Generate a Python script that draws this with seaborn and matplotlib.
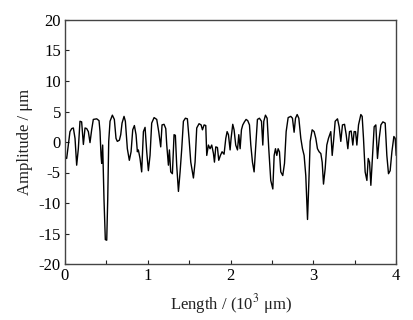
#!/usr/bin/env python3
# -*- coding: utf-8 -*-
"""Surface profile: amplitude vs length."""

import matplotlib
matplotlib.use('Agg')
import matplotlib.pyplot as plt
import seaborn as sns
import pandas as pd
from matplotlib.ticker import MultipleLocator

# Profile (length in 10^3 um, amplitude in um)
length = [0.000, 0.020, 0.040, 0.060, 0.081, 0.101, 0.121, 0.141, 0.161, 0.181,
          0.201, 0.222, 0.242, 0.262, 0.282, 0.302, 0.322, 0.342, 0.383, 0.411,
          0.423, 0.435, 0.443, 0.455, 0.471, 0.487, 0.504, 0.516, 0.528, 0.544,
          0.572, 0.596, 0.616, 0.632, 0.657, 0.673, 0.689, 0.713, 0.729, 0.753,
          0.777, 0.798, 0.818, 0.838, 0.858, 0.874, 0.886, 0.906, 0.926, 0.947,
          0.967, 0.987, 1.007, 1.027, 1.047, 1.076, 1.108, 1.132, 1.156, 1.172,
          1.196, 1.217, 1.229, 1.249, 1.261, 1.277, 1.297, 1.317, 1.333, 1.349,
          1.370, 1.390, 1.410, 1.430, 1.454, 1.478, 1.498, 1.519, 1.551, 1.571,
          1.591, 1.619, 1.644, 1.660, 1.680, 1.700, 1.712, 1.732, 1.752, 1.772,
          1.793, 1.805, 1.821, 1.841, 1.857, 1.877, 1.897, 1.921, 1.942, 1.958,
          1.974, 1.994, 2.006, 2.026, 2.042, 2.062, 2.083, 2.099, 2.115, 2.131,
          2.147, 2.167, 2.187, 2.207, 2.228, 2.244, 2.264, 2.284, 2.304, 2.324,
          2.348, 2.373, 2.389, 2.401, 2.421, 2.441, 2.461, 2.485, 2.510, 2.526,
          2.542, 2.558, 2.574, 2.590, 2.606, 2.630, 2.651, 2.671, 2.695, 2.727,
          2.747, 2.767, 2.784, 2.804, 2.824, 2.848, 2.868, 2.888, 2.908, 2.929,
          2.945, 2.961, 2.985, 3.009, 3.029, 3.049, 3.069, 3.090, 3.106, 3.122,
          3.142, 3.162, 3.182, 3.210, 3.227, 3.243, 3.263, 3.291, 3.311, 3.331,
          3.351, 3.376, 3.396, 3.416, 3.436, 3.456, 3.476, 3.492, 3.509, 3.525,
          3.545, 3.573, 3.589, 3.605, 3.625, 3.646, 3.662, 3.678, 3.694, 3.714,
          3.734, 3.754, 3.774, 3.795, 3.815, 3.839, 3.867, 3.887, 3.907, 3.927,
          3.948, 3.972, 3.988, 4.000]
amplitude = [-2.4, -2.7, -0.5, 1.7, 2.2, 2.3, 0.6, -3.8, -1.1, 3.4,
             3.3, -0.4, 2.3, 2.2, 1.7, -0.1, 2.0, 3.7, 3.8, 3.5,
             1.7, -2.2, -3.5, -0.5, -9.4, -16.0, -16.1, -9.4, 0.1, 3.4,
             4.4, 3.7, 0.6, 0.1, 0.3, 1.2, 3.1, 4.2, 3.4, -1.1,
             -3.0, -1.6, 2.0, 2.7, 1.2, -1.6, -1.3, -2.7, -4.9, 1.7,
             2.4, -1.6, -4.7, -2.2, 3.1, 4.0, 3.7, 1.7, -0.8, 2.8,
             2.9, 2.2, -0.5, -3.8, -1.3, -4.9, -5.2, 1.2, 1.1, -3.8,
             -8.1, -4.9, -1.1, 3.4, 3.9, 3.8, 0.6, -3.3, -5.9, -3.3,
             2.3, 3.0, 2.8, 2.0, 2.8, 2.7, -2.2, -0.5, -1.1, -0.5,
             -1.9, -3.3, -0.8, -0.9, -3.0, -2.2, -1.6, -2.0, 0.6, 1.7,
             1.2, -1.3, 0.6, 2.9, 2.0, -0.5, -1.3, 1.2, -1.1, 2.0,
             2.8, 3.3, 3.7, 3.5, 2.8, -0.5, -3.3, -4.9, -0.5, 3.7,
             3.9, 3.4, -0.5, 3.4, 4.4, 3.9, -1.1, -6.3, -7.7, -2.2,
             -1.1, -2.2, -1.1, -1.6, -4.9, -5.5, -3.5, 1.7, 4.0, 4.2,
             3.9, 1.6, 3.9, 4.5, 3.9, 0.6, -1.1, -2.2, -5.5, -12.7,
             -6.6, 0.1, 2.0, 1.7, 0.6, -1.1, -1.6, -1.9, -3.3, -6.9,
             -4.4, -0.5, 0.6, 1.7, -2.2, 0.1, 3.4, 3.8, 2.5, 0.1,
             2.8, 2.9, 1.2, -1.1, 1.7, 1.8, -0.5, 1.7, 1.7, -0.5,
             2.8, 4.5, 4.2, 0.6, -4.9, -6.3, -2.7, -3.3, -7.1, -2.2,
             2.5, 2.8, -2.7, 0.6, 2.8, 3.3, 3.1, -2.2, -5.2, -4.7,
             -1.6, 0.9, 0.6, -2.2]

df = pd.DataFrame({'Length': length, 'Amplitude': amplitude})

sns.set_style('white')
plt.rcParams['font.family'] = ['Liberation Serif', 'DejaVu Serif']
plt.rcParams['mathtext.fontset'] = 'stix'
plt.rcParams['axes.unicode_minus'] = False

fig = plt.figure(figsize=(4.14, 3.2), dpi=100)
ax = fig.add_axes([0.157, 0.175, 0.800, 0.7625])
sns.lineplot(data=df, x='Length', y='Amplitude', ax=ax, color='black',
             linewidth=1.0, estimator=None, sort=False)

ax.set_xlim(0, 4)
ax.set_ylim(-20, 20)
ax.xaxis.set_major_locator(MultipleLocator(1))
ax.xaxis.set_minor_locator(MultipleLocator(0.5))
ax.yaxis.set_major_locator(MultipleLocator(5))
ax.tick_params(which='both', direction='in', length=3, width=0.8,
               top=False, right=False, labelsize=12, colors='#222222',
               bottom=True, left=True, pad=3)
ax.tick_params(axis='both', labelcolor='black')
for s in ax.spines.values():
    s.set_color('#444444')
    s.set_linewidth(1.0)

ax.set_xlabel('Length / (10$^3$ \u03bcm)', fontsize=12, color='#222222',
              labelpad=6)
ax.set_ylabel('Amplitude / \u03bcm', fontsize=12, color='#222222')

fig.savefig('out.png', dpi=100)
